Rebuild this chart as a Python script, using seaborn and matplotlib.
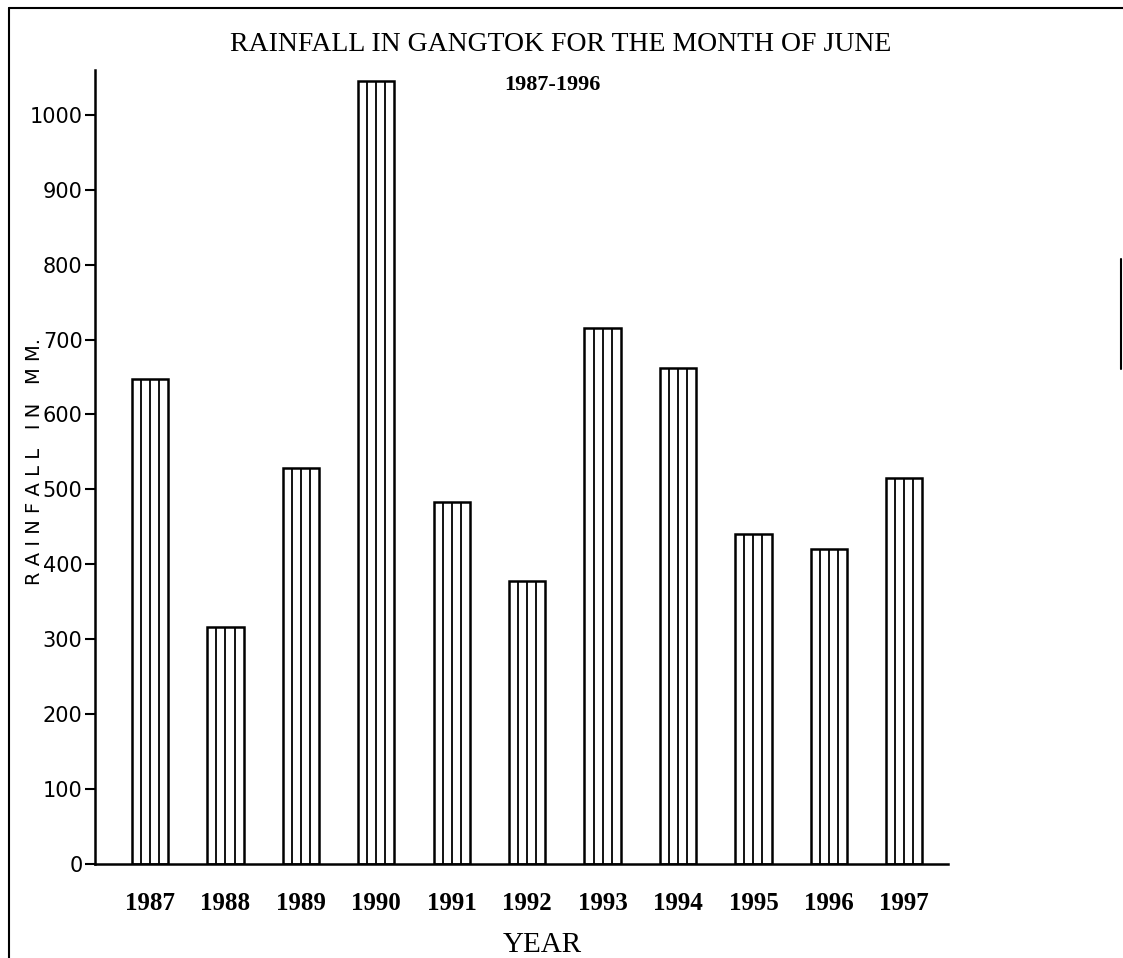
import matplotlib
matplotlib.use("Agg")
import matplotlib.pyplot as plt
from matplotlib.lines import Line2D
import seaborn as sns
import pandas as pd

# June rainfall at Gangtok (mm)
years = ["1987", "1988", "1989", "1990", "1991", "1992",
         "1993", "1994", "1995", "1996", "1997"]
rainfall_mm = [648, 317, 528, 1045, 483, 378, 715, 662, 440, 420, 515]
y_ticks = [0, 100, 200, 300, 400, 500, 600, 700, 800, 900, 1000]

title = "RAINFALL IN GANGTOK FOR THE MONTH OF JUNE"
subtitle = "1987-1996"
x_label = "YEAR"
y_label = "R A I N F A L L   I N   M M."

sns.set_theme(style="ticks")
plt.rcParams["font.family"] = ["DejaVu Sans"]
plt.rcParams["text.color"] = "black"

df = pd.DataFrame({"year": years, "rain": rainfall_mm})

fig = plt.figure(figsize=(11.23, 9.58), dpi=100)
ax = fig.add_axes([0.0846, 0.0981, 0.7596, 0.829])

sns.barplot(data=df, x="year", y="rain", ax=ax, color="white",
            edgecolor="black", linewidth=1.8, width=0.48, saturation=1)

# vertical stripes inside each bar
for patch, val in zip(ax.patches, rainfall_mm):
    x0, w = patch.get_x(), patch.get_width()
    xs = [x0 + w * k / 4 for k in (1, 2, 3)]
    ax.vlines(xs, 0, val, color="black", linewidth=1.3)

ax.set_xlim(-0.73, 10.58)
ax.set_ylim(0, 1060)
ax.set_yticks(y_ticks)
ax.set_yticklabels([str(t) for t in y_ticks], fontsize=15)
ax.tick_params(axis="y", length=7, width=1.5, pad=2, colors="black")
ax.tick_params(axis="x", length=0, pad=20, colors="black")
for lbl in ax.get_xticklabels():
    lbl.set_fontfamily("Liberation Serif")
    lbl.set_fontweight("bold")
    lbl.set_fontsize(18)

for side in ("top", "right"):
    ax.spines[side].set_visible(False)
for side in ("left", "bottom"):
    ax.spines[side].set_linewidth(1.8)
    ax.spines[side].set_color("black")

ax.set_xlabel("")
ax.set_ylabel("")

# axis titles and headings
fig.text(0.499, 0.9535, title, ha="center", va="center",
         family="Liberation Serif", fontsize=20, color="black")
fig.text(0.492, 0.911, subtitle, ha="center", va="center",
         family="Liberation Serif", fontweight="bold", fontsize=16,
         color="black")
fig.text(0.483, 0.0135, x_label, ha="center", va="center",
         family="Liberation Serif", fontsize=21, color="black")
fig.text(0.031, 0.518, y_label, ha="center", va="center", rotation=90,
         family="DejaVu Sans", fontsize=14, color="black")

# page frame
fig.add_artist(Line2D([0.008, 0.008], [0.0, 0.992], color="black", lw=1.5))
fig.add_artist(Line2D([0.008, 1.0], [0.992, 0.992], color="black", lw=1.5))
fig.add_artist(Line2D([0.998, 0.998], [0.615, 0.73], color="black", lw=1.5))

fig.savefig("out.png", dpi=100)
